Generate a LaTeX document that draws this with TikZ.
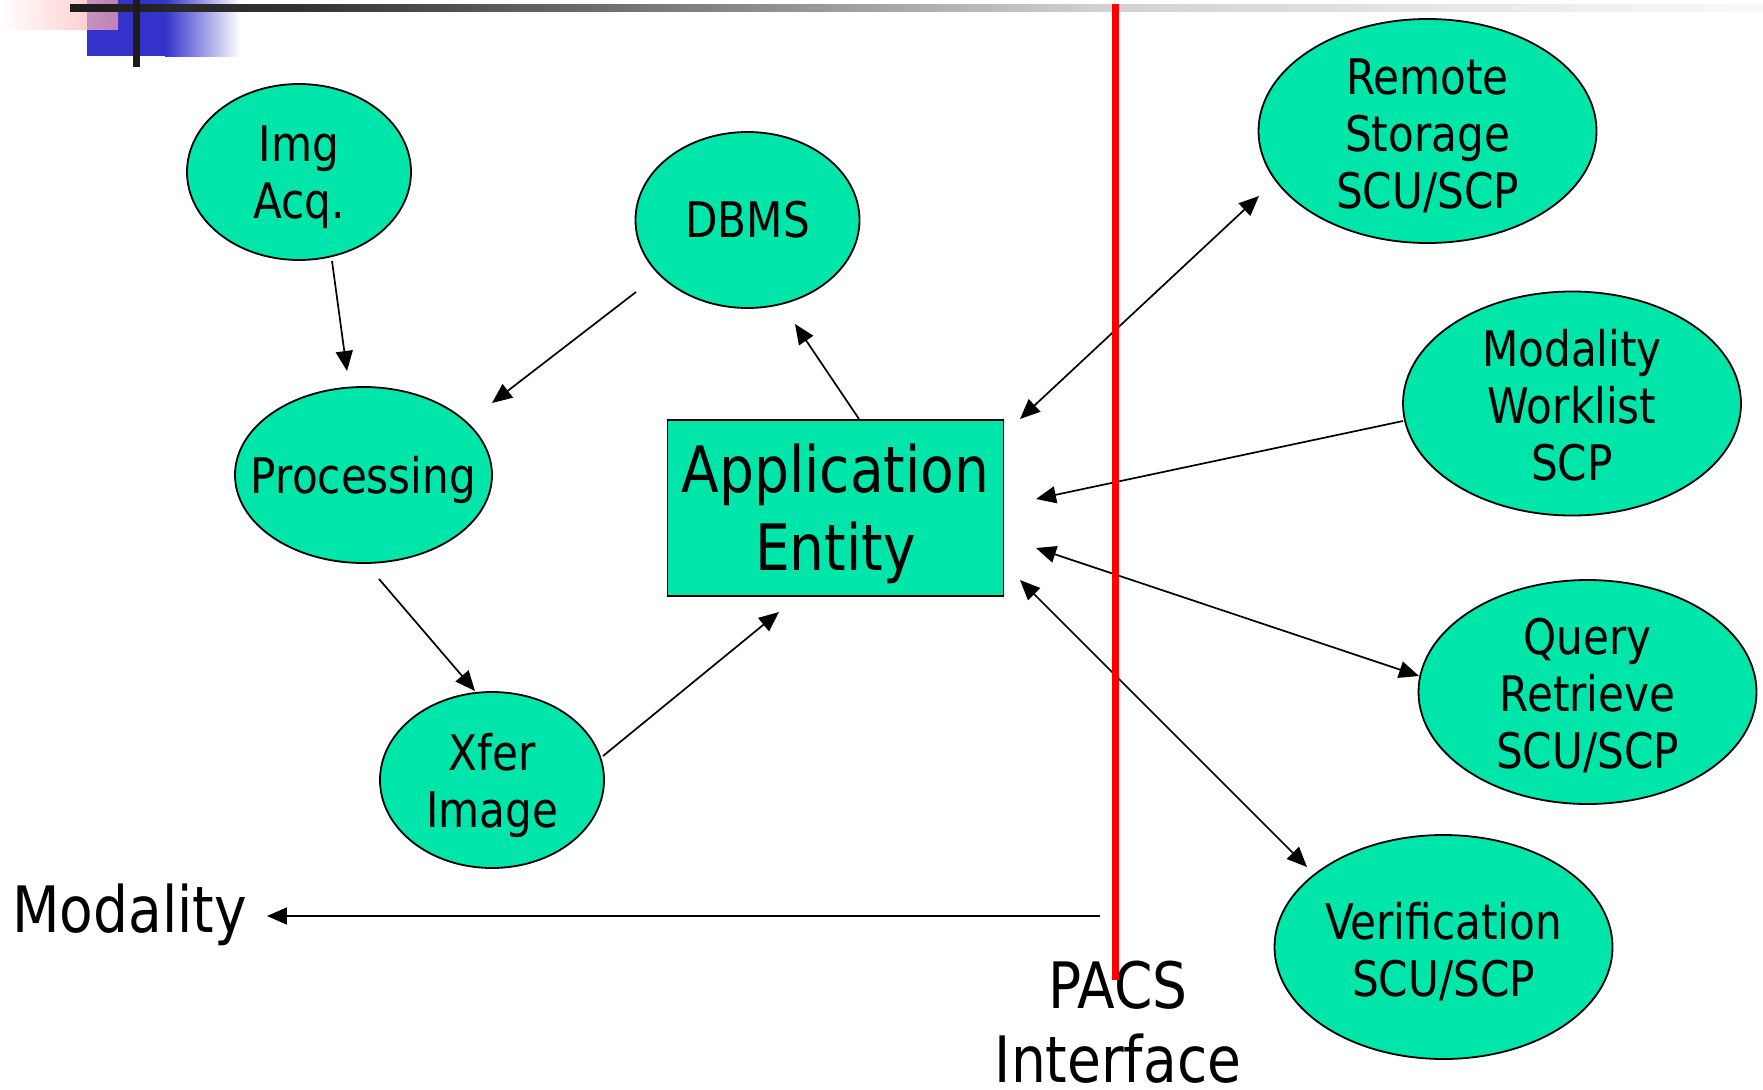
\documentclass[tikz,border=0pt]{standalone}
\usepackage{fontspec}
\setmainfont[FakeStretch=0.86]{DejaVu Sans}
\usetikzlibrary{arrows.meta,shapes.geometric,calc}

\definecolor{nodegreen}{RGB}{0,229,170}
\definecolor{slideblue}{RGB}{51,51,204}
\definecolor{slidepink}{RGB}{255,165,165}
\definecolor{bardark}{RGB}{28,28,28}

\tikzset{
  >={Triangle[length=20pt,width=17pt]},
  oval/.style={ellipse, draw=black, line width=1.8pt, fill=nodegreen, inner sep=0pt},
  smalloval/.style={oval, minimum width=224pt, minimum height=176pt},
  bigoval/.style={oval, minimum width=338pt, minimum height=224pt},
  ovaltext/.style={font=\fontsize{49}{57}\selectfont, align=center, inner sep=0pt},
  bigtext/.style={font=\fontsize{64}{77}\selectfont, inner sep=0pt},
  boxtext/.style={font=\fontsize{64}{78}\selectfont, align=center, inner sep=0pt},
  entitybox/.style={rectangle, draw=black, line width=1.6pt, fill=nodegreen,
    minimum width=336pt, minimum height=176pt, inner sep=0pt},
  conn/.style={line width=1.7pt, black},
}

\begin{document}
\begin{tikzpicture}[x=1pt,y=-1pt]
\useasboundingbox (0,0) rectangle (1763,1089);

% slide corner ornament
\shade[left color=slideblue, right color=white] (165,0) rectangle (240,57);
\fill[slideblue] (87,0) rectangle (165,56);
\shade[left color=white, right color=slidepink, fill opacity=0.7] (0,0) rectangle (118,30);
% title rule fading to the right
\shade[left color=bardark, right color=black!80] (70,5) rectangle (300,12);
\shade[left color=black!80, right color=black!18] (300,5) rectangle (1100,12);
\shade[left color=black!18, right color=black!2] (1100,5) rectangle (1763,12);
\fill[bardark] (133,0) rectangle (140,67);

% nodes
\node[smalloval, label={[ovaltext, yshift=-5.5pt]center:Img\\Acq.}] (img) at (299,172) {};
\node[smalloval, label={[ovaltext]center:DBMS}] (dbms) at (747.5,220) {};
\node[smalloval, minimum width=257pt, label={[ovaltext, yshift=-4.5pt]center:Processing}] (proc) at (363.5,475) {};
\node[smalloval, label={[ovaltext, yshift=-5.5pt]center:Xfer\\Image}] (xfer) at (492,780) {};
\node[entitybox, label={[boxtext, yshift=-6pt]center:Application\\Entity}] (ae) at (835.5,508) {};
\node[bigoval, label={[ovaltext, yshift=-5pt]center:Remote\\Storage\\SCU/SCP}] (rem) at (1427.5,131) {};
\node[bigoval, label={[ovaltext, yshift=-1.5pt]center:Modality\\Worklist\\SCP}] (mwl) at (1572,403.5) {};
\node[bigoval, label={[ovaltext, yshift=-3.5pt]center:Query\\Retrieve\\SCU/SCP}] (qr) at (1587.5,692) {};
\node[bigoval, label={[ovaltext, yshift=-4.5pt]center:Verification\\SCU/SCP}] (ver) at (1443.5,947) {};

\node[bigtext, anchor=base west] (modality) at (12,932) {Modality};
\node[bigtext, anchor=base] (pacs) at (1118,1008) {PACS};
\node[bigtext, anchor=base] (iface) at (1118,1082) {Interface};
\coordinate (pacsfoot) at (1100,916);

% connectors, each end set off from its node's centre
\draw[conn, ->] ($(img)+(33,89)$) -- ($(proc)+(-16.5,-104)$);
\draw[conn, ->] ($(dbms)+(-111.5,72)$) -- ($(proc)+(128.5,-72)$);
\draw[conn, ->] ($(proc)+(15.5,104)$) -- ($(xfer)+(-17,-89)$);
\draw[conn, ->] ($(xfer)+(111,-24)$) -- ($(ae)+(-56.5,104)$);
\draw[conn, ->] ($(ae)+(23.5,-89)$) -- ($(dbms)+(47.5,104)$);
\draw[conn, <->] ($(ae)+(184.5,-89)$) -- ($(rem)+(-168.5,65)$);
\draw[conn, ->] ($(mwl)+(-169,17.5)$) -- ($(ae)+(200.5,-9)$);
\draw[conn, <->] ($(ae)+(200.5,40)$) -- ($(qr)+(-168.5,-16)$);
\draw[conn, <->] ($(ae)+(184.5,72)$) -- ($(ver)+(-136.5,-80)$);
\draw[conn, ->] (pacsfoot) -- ($(pacsfoot -| modality.east)+(20,0)$);

% interface boundary
\draw[red, line width=7pt] (1115,4) -- (1115,980);
\end{tikzpicture}
\end{document}
